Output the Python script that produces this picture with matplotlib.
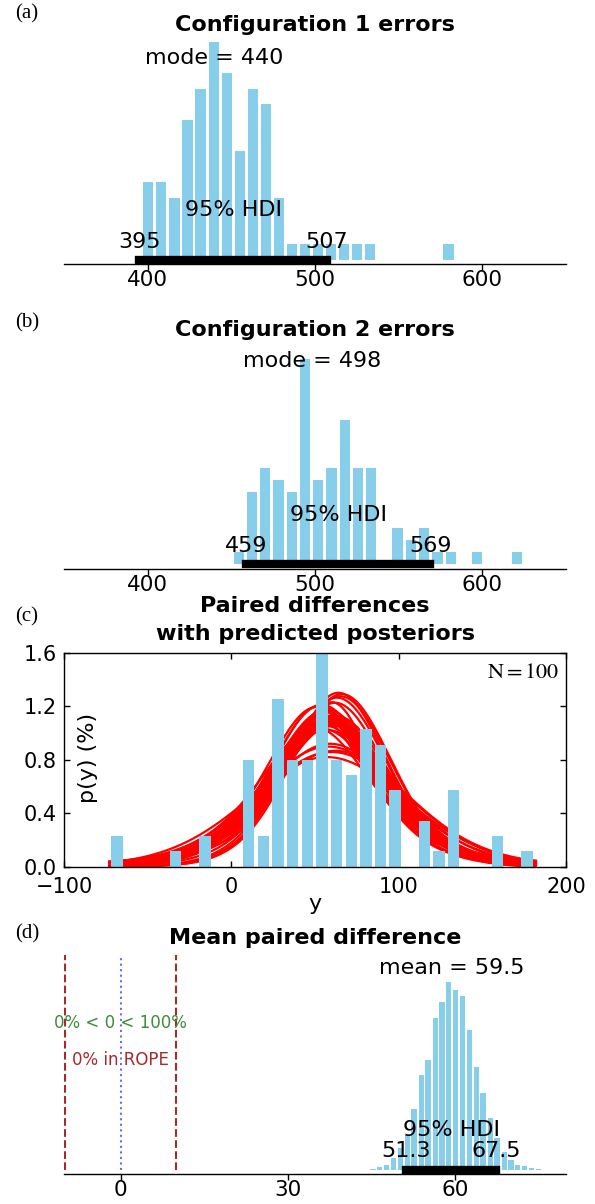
import math
import numpy as np
import matplotlib
matplotlib.use("Agg")
import matplotlib.pyplot as plt
from matplotlib import transforms

# (a) configuration 1 errors: bin centres / counts
cfg1_bins = [400.4, 408.2, 416.0, 423.8, 431.6, 439.4, 447.2, 455.0, 462.8, 470.6,
             478.4, 486.2, 494.0, 501.8, 509.6, 517.4, 525.2, 533.0, 579.8]
cfg1_counts = [5, 5, 4, 9, 11, 14, 12, 7, 11, 10, 4, 1, 1, 1, 1, 1, 1, 1, 1]
cfg1_mode = 440
cfg1_hdi = [395, 507]

# (b) configuration 2 errors
cfg2_bins = [454.4, 462.3, 470.2, 478.1, 486.1, 494.0, 501.9, 509.8, 517.8, 525.7,
             533.6, 549.4, 557.4, 565.3, 573.2, 581.1, 597.0, 620.7]
cfg2_counts = [1, 6, 8, 7, 6, 17, 7, 8, 12, 8, 8, 3, 2, 3, 1, 1, 1, 1]
cfg2_mode = 498
cfg2_hdi = [459, 569]

# (c) paired differences (N = 100), bin width 8.75
diff_bins = [-68.35, -33.35, -15.85, 10.4, 19.15, 27.9, 36.65, 45.4, 54.15, 62.9,
             71.65, 80.4, 89.15, 97.9, 115.4, 124.15, 132.9, 159.15, 176.65]
diff_counts = [2, 1, 2, 7, 2, 11, 7, 7, 14, 7, 6, 9, 8, 5, 3, 1, 5, 2, 1]
DIFF_STEP = 8.75

# posterior predictive t curves (mu, sigma, nu)
pp_mu = [64, 66, 63, 62, 65, 55, 57, 58, 56, 59, 54, 60, 57, 51, 58, 61, 55, 59, 53, 60,
         56, 62, 58, 54, 57, 61, 59, 55, 50, 63, 58, 60, 57, 62, 59, 56, 58, 54, 60, 52]
pp_sigma = [30, 30.5, 31, 31.5, 31, 33, 33, 34, 35, 33.5, 32, 34.5, 35.5, 32, 36, 35, 36.5, 37,
            31.5, 33, 34, 36, 35, 37, 38, 37.5, 34, 35, 36, 34, 44, 46, 48, 45, 42, 30, 31,
            32, 29, 33]
pp_nu = [12, 20, 15, 8, 30, 6, 10, 5, 7, 4, 9, 12, 6, 6, 15, 5, 8, 20, 5, 3,
         3.5, 7, 9, 6, 10, 25, 6, 11, 4, 6, 30, 25, 20, 12, 8, 2, 1.8, 2.5, 2.2, 3]

# (d) posterior of the mean paired difference
mu_bins = [45.3, 46.5, 47.8, 49.0, 50.3, 51.5, 52.7, 54.0, 55.2, 56.5, 57.7, 58.9, 60.2,
           61.4, 62.7, 63.9, 65.1, 66.4, 67.6, 68.9, 70.1, 71.3, 72.6, 73.8, 75.1]
mu_freq = [3, 7, 15, 35, 65, 107, 185, 289, 335, 465, 512, 573, 550, 530, 427, 315, 235,
           157, 95, 55, 30, 15, 10, 6, 3]
MU_STEP = 1.23
mu_mean = 59.5
mu_hdi = [51.3, 67.5]
rope = [-10, 10]

W, H, DPI = 595, 1204, 100
L, R = 64, 566
BAR = "#87ceeb"

plt.rcParams["font.family"] = ["DejaVu Sans"]
plt.rcParams["mathtext.fontset"] = "stix"

fig = plt.figure(figsize=(W / DPI, H / DPI), dpi=DPI)


def fy(px):
    return 1 - px / H


def t_pdf(x, mu, sigma, nu):
    c = math.exp(math.lgamma((nu + 1) / 2) - math.lgamma(nu / 2)) / math.sqrt(nu * math.pi)
    return c / sigma * (1 + ((x - mu) / sigma) ** 2 / nu) ** (-(nu + 1) / 2)


def post_axes(top, spine, zero, peak_px, peak_val):
    """eixo com a linha de base em `spine` px e y=0 em `zero` px"""
    ax = fig.add_axes([L / W, fy(spine), (R - L) / W, (spine - top) / H])
    k = peak_val / (zero - peak_px)
    ax.set_ylim(-(spine - zero) * k, (zero - top) * k)
    for s in ("left", "right", "top"):
        ax.spines[s].set_visible(False)
    ax.spines["bottom"].set_linewidth(1.0)
    ax.set_yticks([])
    ax.tick_params(axis="x", direction="out", length=4, width=1, labelsize=15.5, pad=0.5)
    return ax


def hdi_marks(ax, bins, heights, step, hdi, labels, zero, hdi_dy, num_dy):
    ax.bar(bins, heights, width=0.78 * step, color=BAR, linewidth=0, zorder=1)
    ax.plot(hdi, [0, 0], color="k", lw=6, solid_capstyle="projecting", zorder=3)
    tr = transforms.blended_transform_factory(ax.transData, fig.transFigure)
    ax.text(np.mean(hdi), fy(zero - hdi_dy), "95% HDI", transform=tr,
            ha="center", va="baseline", fontsize=16)
    for x, s in zip(hdi, labels):
        ax.text(x, fy(zero - num_dy), s, transform=tr, ha="center", va="baseline", fontsize=16)
    return tr


def title(px, s):
    # px = baseline of the last line
    fig.text((L + R) / 2 / W, fy(px), s, ha="center", va="baseline",
             fontsize=16, fontweight="bold", linespacing=1.45)


def panel_tag(px, s):
    fig.text(15 / W, fy(px), s, ha="left", va="baseline", fontsize=15,
             family=["Liberation Serif", "DejaVu Serif"])


# ---- (a) ----
zero_a = 259.8
ax_a = post_axes(40, 264, zero_a, 42.3, max(cfg1_counts))
tr = hdi_marks(ax_a, cfg1_bins, cfg1_counts, 7.8, cfg1_hdi,
               [str(v) for v in cfg1_hdi], zero_a, 43.5, 12)
ax_a.text(cfg1_mode, fy(63.5), f"mode = {cfg1_mode}", transform=tr,
          ha="center", va="baseline", fontsize=16)
ax_a.set_xlim(350, 650)
ax_a.set_xticks([400, 500, 600])
title(31, "Configuration 1 errors")
panel_tag(18, "(a)")

# ---- (b) ----
zero_b = 564.3
ax_b = post_axes(345, 568.5, zero_b, 359.3, max(cfg2_counts))
tr = hdi_marks(ax_b, cfg2_bins, cfg2_counts, 7.92, cfg2_hdi,
               [str(v) for v in cfg2_hdi], zero_b, 43.5, 12.5)
ax_b.text(cfg2_mode, fy(367), f"mode = {cfg2_mode}", transform=tr,
          ha="center", va="baseline", fontsize=16)
ax_b.set_xlim(350, 650)
ax_b.set_xticks([400, 500, 600])
title(336, "Configuration 2 errors")
panel_tag(327, "(b)")

# ---- (c) ----
c_top, c_bot = 653, 866.7
ax_c = fig.add_axes([L / W, fy(c_bot), (R - L) / W, (c_bot - c_top) / H])
xs = np.linspace(-73, 182, 400)
for mu, sg, nu in zip(pp_mu, pp_sigma, pp_nu):
    ax_c.plot(xs, 100 * t_pdf(xs, mu, sg, nu), color="red", lw=1.6, zorder=1)
dens = 100 * np.array(diff_counts) / (sum(diff_counts) * DIFF_STEP)
ax_c.bar(diff_bins, dens, width=0.78 * DIFF_STEP, color=BAR, linewidth=0, zorder=2)
ax_c.set_xlim(-100, 200)
ax_c.set_ylim(0, 1.6)
ax_c.set_xticks([-100, 0, 100, 200])
ax_c.set_yticks([0, 0.4, 0.8, 1.2, 1.6])
ax_c.set_yticklabels([f"{v:.1f}" for v in [0, 0.4, 0.8, 1.2, 1.6]])
ax_c.tick_params(direction="in", top=True, right=True, length=4, width=1, labelsize=15)
ax_c.tick_params(axis="x", pad=7.5)
ax_c.tick_params(axis="y", pad=5)
for s in ax_c.spines.values():
    s.set_linewidth(1.0)
ax_c.set_xlabel("y", fontsize=16, labelpad=-2.5)
ax_c.set_ylabel("p(y) (%)", fontsize=16)
ax_c.yaxis.set_label_coords((98 - L) / (R - L), 0.51)
ax_c.text(0.988, 0.9125, r"$\mathrm{N=100}$", transform=ax_c.transAxes,
          ha="right", va="center", fontsize=16)
title(639.5, "Paired differences\nwith predicted posteriors")
panel_tag(621, "(c)")

# ---- (d) ----
zero_d = 1169.5
ax_d = post_axes(950, 1173.5, zero_d, 982.3, max(mu_freq))
tr = hdi_marks(ax_d, mu_bins, mu_freq, MU_STEP, mu_hdi,
               [f"{v:.1f}" for v in mu_hdi], zero_d, 33, 12.5)
ax_d.text(mu_mean, fy(973.5), f"mean = {mu_mean}", transform=tr,
          ha="center", va="baseline", fontsize=16)
line_top = max(mu_freq) * (zero_d - 955) / (zero_d - 982.3)
ax_d.vlines(rope, 0, line_top, colors="#a52a2a", linestyles="--", lw=1.5, zorder=0)
ax_d.vlines([0], 0, line_top, colors="#6a6aee", linestyles=":", lw=1.5, zorder=0)
ax_d.text(0, fy(1028), "0% < 0 < 100%", transform=tr, ha="center", va="baseline",
          fontsize=12, color="#3d8b3d")
ax_d.text(0, fy(1065), "0% in ROPE", transform=tr, ha="center", va="baseline",
          fontsize=12, color="#a52a2a")
ax_d.set_xlim(-10.2, 80)
ax_d.set_xticks([0, 30, 60])
title(943.5, "Mean paired difference")
panel_tag(938, "(d)")

fig.savefig("out.png", dpi=DPI)
